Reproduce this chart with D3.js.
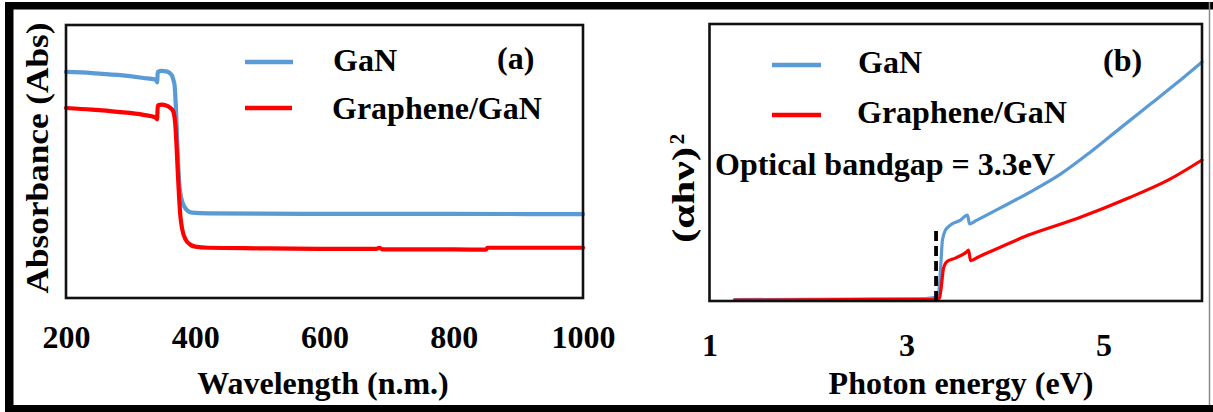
<!DOCTYPE html>
<html>
<head>
<meta charset="utf-8">
<script src="https://cdn.jsdelivr.net/npm/d3@7"></script>
<style>
  html, body { margin: 0; padding: 0; background: #fff; }
  svg text { font-family: "Liberation Serif", "Times New Roman", serif; font-weight: bold; fill: #000; }
</style>
</head>
<body>
<svg id="chart" width="1213" height="412"></svg>
<script>
// ---- (a) UV-Vis absorbance spectra ----
const gaNWavelength = [200, 240, 280, 320, 338, 340, 341, 342, 348, 355, 360, 364, 366, 368, 370, 372, 374, 376, 379, 383, 388, 395, 420, 500, 600, 800, 1000];
const gaNAbsorbance = [0.828, 0.824, 0.817, 0.806, 0.800, 0.795, 0.790, 0.828, 0.832, 0.830, 0.825, 0.815, 0.800, 0.780, 0.700, 0.580, 0.470, 0.400, 0.360, 0.335, 0.320, 0.313, 0.310, 0.309, 0.308, 0.308, 0.307];

const grapheneWavelength = [200, 240, 280, 320, 338, 340, 341, 342, 348, 355, 361, 365, 367, 369, 371, 373, 375, 377, 380, 385, 392, 400, 420, 500, 600, 680, 685, 690, 800, 850, 852, 900, 1000];
const grapheneAbsorbance = [0.696, 0.690, 0.682, 0.671, 0.662, 0.657, 0.655, 0.705, 0.708, 0.705, 0.697, 0.688, 0.675, 0.640, 0.560, 0.460, 0.370, 0.300, 0.250, 0.215, 0.196, 0.188, 0.184, 0.182, 0.180, 0.180, 0.184, 0.178, 0.178, 0.177, 0.184, 0.184, 0.184];

const wavelengthTicks = [200, 400, 600, 800, 1000];

// ---- (b) Tauc plot ----
const gaNEnergy = [1.254, 2.431, 3.193, 3.294, 3.325, 3.345, 3.365, 3.396, 3.447, 3.548, 3.619, 3.640, 3.701, 3.954, 4.259, 4.563, 4.868, 5.173, 5.477, 5.731, 6.0];
const gaNTauc = [0.005, 0.007, 0.009, 0.013, 0.025, 0.112, 0.220, 0.256, 0.274, 0.292, 0.310, 0.278, 0.289, 0.336, 0.394, 0.458, 0.538, 0.625, 0.711, 0.783, 0.863];

const grapheneEnergy = [1.254, 2.431, 3.294, 3.335, 3.355, 3.376, 3.406, 3.497, 3.609, 3.630, 3.650, 3.731, 4.239, 4.746, 5.254, 5.660, 6.0];
const grapheneTauc = [0.003, 0.005, 0.005, 0.011, 0.058, 0.119, 0.141, 0.155, 0.177, 0.184, 0.146, 0.159, 0.238, 0.300, 0.372, 0.437, 0.509];

const energyTicks = [1, 3, 5];
const bandgapEv = 3.3;
const bandgapMarkTop = 0.26;

const seriesNames = ["GaN", "Graphene/GaN"];
const seriesColors = ["#5B9BD5", "#FF0000"];

const svg = d3.select("#chart");

// outer frame
svg.append("rect").attr("x", 5).attr("y", 2).attr("width", 1208).attr("height", 7.5).attr("fill", "#000");
svg.append("rect").attr("x", 5).attr("y", 2).attr("width", 8.5).attr("height", 410).attr("fill", "#000");
svg.append("rect").attr("x", 5).attr("y", 405).attr("width", 1208).attr("height", 7).attr("fill", "#000");
svg.append("line").attr("x1", 1209.5).attr("x2", 1209.5).attr("y1", 2).attr("y2", 405)
  .attr("stroke", "#8a8a8a").attr("stroke-width", 1.5);

function pairs(xs, ys) { return xs.map((x, i) => [x, ys[i]]); }

function drawPanel(cfg) {
  const g = svg.append("g");
  const x = d3.scaleLinear().domain(cfg.xDomain).range(cfg.xRange);
  const y = d3.scaleLinear().domain([0, 1]).range(cfg.yRange);

  const line = d3.line().x(d => x(d[0])).y(d => y(d[1])).curve(d3.curveMonotoneX);
  cfg.series.forEach((s, i) => {
    g.append("path").datum(pairs(s.x, s.y))
      .attr("d", line)
      .attr("fill", "none")
      .attr("stroke", seriesColors[i])
      .attr("stroke-width", cfg.lineWidth)
      .attr("stroke-linejoin", "round")
      .attr("stroke-linecap", "round");
  });

  // plot frame
  g.append("rect")
    .attr("x", cfg.xRange[0]).attr("y", cfg.yRange[1])
    .attr("width", cfg.xRange[1] - cfg.xRange[0])
    .attr("height", cfg.yRange[0] - cfg.yRange[1])
    .attr("fill", "none").attr("stroke", "#111").attr("stroke-width", 2.6);

  // x axis labels
  const axis = d3.axisBottom(x).tickValues(cfg.ticks).tickSize(0).tickPadding(cfg.tickPad)
    .tickFormat(d3.format("d"));
  const ax = g.append("g").attr("transform", `translate(0,${cfg.yRange[0]})`).call(axis);
  ax.select(".domain").remove();
  ax.selectAll("text").attr("font-size", 32).attr("fill", "#000")
    .style("font-family", "'Liberation Serif', 'Times New Roman', serif").style("font-weight", "bold");

  // axis title
  g.append("text").attr("x", cfg.xTitlePos[0]).attr("y", cfg.xTitlePos[1])
    .attr("text-anchor", "middle").attr("font-size", 32).text(cfg.xTitle);

  // legend
  cfg.legend.forEach((L, i) => {
    g.append("line").attr("x1", L.x1).attr("x2", L.x2).attr("y1", L.y).attr("y2", L.y)
      .attr("stroke", seriesColors[i]).attr("stroke-width", 4.5);
    g.append("text").attr("x", L.tx).attr("y", L.ty).attr("font-size", 32).text(seriesNames[i]);
  });

  g.append("text").attr("x", cfg.tag[0]).attr("y", cfg.tag[1]).attr("font-size", 32).text(cfg.tagText);
  return { g, x, y };
}

// (a)
const pa = drawPanel({
  xDomain: [200, 1000], xRange: [66, 583], yRange: [298, 25],
  lineWidth: 4.2,
  series: [{ x: gaNWavelength, y: gaNAbsorbance }, { x: grapheneWavelength, y: grapheneAbsorbance }],
  ticks: wavelengthTicks, tickPad: 27,
  xTitle: "Wavelength (n.m.)", xTitlePos: [323, 394],
  legend: [
    { x1: 245, x2: 293, y: 62, tx: 333, ty: 71 },
    { x1: 245, x2: 292, y: 108, tx: 332, ty: 119 }
  ],
  tag: [497, 69], tagText: "(a)"
});
pa.g.append("text")
  .attr("transform", "translate(48,158) rotate(-90)")
  .attr("text-anchor", "middle").attr("font-size", 32)
  .attr("textLength", 271).attr("lengthAdjust", "spacingAndGlyphs")
  .text("Absorbance (Abs)");

// (b)
const pb = drawPanel({
  xDomain: [1, 6], xRange: [709.5, 1202], yRange: [301, 24],
  lineWidth: 3.2,
  series: [{ x: gaNEnergy, y: gaNTauc }, { x: grapheneEnergy, y: grapheneTauc }],
  ticks: energyTicks, tickPad: 32,
  xTitle: "Photon energy (eV)", xTitlePos: [961, 394],
  legend: [
    { x1: 772, x2: 821, y: 65, tx: 858, ty: 73 },
    { x1: 772, x2: 821, y: 115, tx: 857, ty: 123 }
  ],
  tag: [1103, 71], tagText: "(b)"
});

// bandgap marker
pb.g.append("line")
  .attr("x1", pb.x(bandgapEv)).attr("x2", pb.x(bandgapEv))
  .attr("y1", pb.y(0)).attr("y2", pb.y(bandgapMarkTop))
  .attr("stroke", "#000").attr("stroke-width", 3.8).attr("stroke-dasharray", "10,5");

pb.g.append("text").attr("x", 715).attr("y", 175).attr("font-size", 32)
  .text(`Optical bandgap = ${bandgapEv}eV`);

// (αhν)² title
pb.g.append("text")
  .attr("transform", "translate(694,195) rotate(-90)")
  .attr("text-anchor", "middle").attr("font-size", 32)
  .attr("textLength", 96).attr("lengthAdjust", "spacingAndGlyphs")
  .text("(αhν)");
pb.g.append("text")
  .attr("transform", "translate(684,139) rotate(-90)")
  .attr("text-anchor", "middle").attr("font-size", 21)
  .text("2");
</script>
</body>
</html>
